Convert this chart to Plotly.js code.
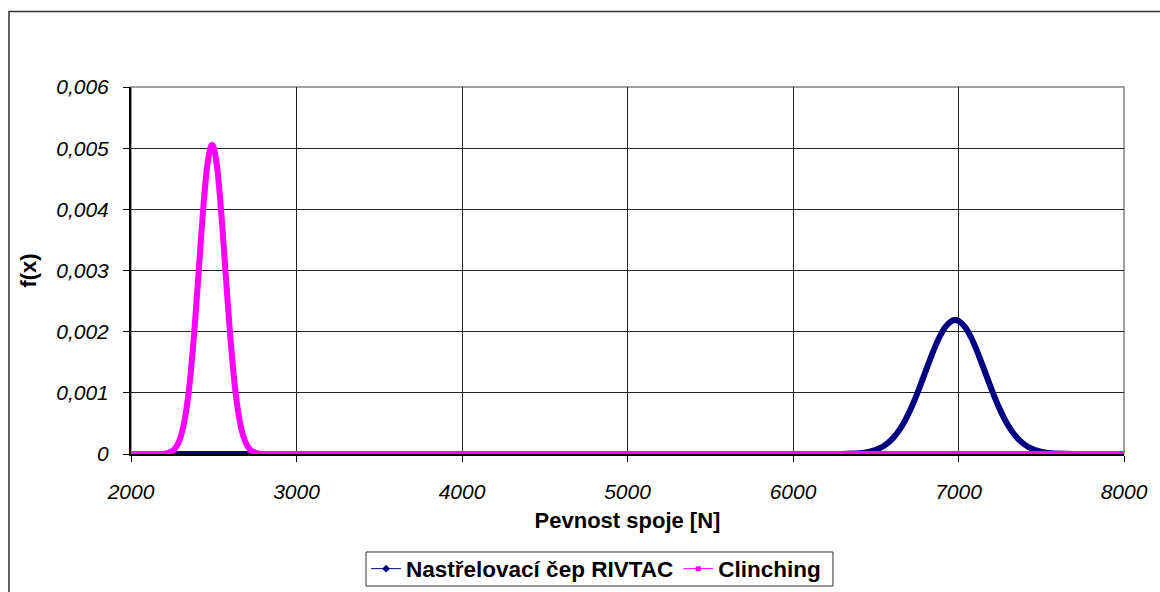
<!DOCTYPE html>
<html>
<head>
<meta charset="utf-8">
<script src="https://cdn.plot.ly/plotly-3.0.1.min.js"></script>
<style>html,body{margin:0;padding:0;background:#fff;}#chart{width:1160px;height:592px;}</style>
</head>
<body>
<div id="chart"></div>
<script>
// Series names
const seriesNames = ["Nastřelovací čep RIVTAC", "Clinching"];

// Nastřelovací čep RIVTAC (blue)
const rivtacX = [2000, 4000, 6000, 6300, 6360, 6400, 6440, 6480, 6520, 6560, 6600, 6640, 6680, 6720, 6760, 6800, 6840, 6880, 6920, 6960, 6980, 7000, 7040, 7080, 7120, 7160, 7200, 7240, 7280, 7320, 7360, 7400, 7440, 7480, 7520, 7560, 7600, 7700, 8000];
const rivtacY = [0, 0, 0, 0, 0.0000066, 0.0000136, 0.0000268, 0.0000503, 0.0000898, 0.000153, 0.000247, 0.000382, 0.000563, 0.000789, 0.001055, 0.001343, 0.001629, 0.001884, 0.002074, 0.002177, 0.00219, 0.002177, 0.002074, 0.001884, 0.001629, 0.001343, 0.001055, 0.000789, 0.000563, 0.000382, 0.000247, 0.000153, 0.0000898, 0.0000503, 0.0000268, 0.0000136, 0.0000066, 0, 0];

// Clinching (magenta)
const clinchX = [2000, 2100, 2150, 2200, 2220, 2240, 2260, 2280, 2300, 2320, 2340, 2360, 2380, 2400, 2420, 2440, 2460, 2480, 2490, 2500, 2520, 2540, 2560, 2580, 2600, 2620, 2640, 2660, 2680, 2700, 2720, 2740, 2760, 2780, 2830, 2900, 4000, 6000, 8000];
const clinchY = [0, 0, 0, 0.000006, 0.0000147, 0.0000338, 0.0000729, 0.000148, 0.00028, 0.000499, 0.000832, 0.0013, 0.00192, 0.00264, 0.00341, 0.00413, 0.0047, 0.00501, 0.00505, 0.00501, 0.0047, 0.00413, 0.00341, 0.00264, 0.00192, 0.0013, 0.000832, 0.000499, 0.00028, 0.000148, 0.0000729, 0.0000338, 0.0000147, 0.000006, 0, 0, 0, 0, 0];

// Tick labels
const xTickVals = [2000, 3000, 4000, 5000, 6000, 7000, 8000];
const xTickText = ["2000", "3000", "4000", "5000", "6000", "7000", "8000"];
const yTickVals = [0, 0.001, 0.002, 0.003, 0.004, 0.005, 0.006];
const yTickText = ["0", "0,001", "0,002", "0,003", "0,004", "0,005", "0,006"];

const xTitle = "Pevnost spoje [N]";
const yTitle = "f(x)";

const blue = "#000080";
const pink = "#FF00FF";
const FONT = "Liberation Sans, Arial, sans-serif";

const traces = [
  {x: rivtacX, y: rivtacY, type: "scatter", mode: "lines", line: {color: blue, width: 6, shape: "spline", smoothing: 0.6}, showlegend: false, hoverinfo: "skip"},
  {x: clinchX, y: clinchY, type: "scatter", mode: "lines", line: {color: pink, width: 6, shape: "spline", smoothing: 0.6}, showlegend: false, hoverinfo: "skip"},
  {x: [null], y: [null], type: "scatter", mode: "lines+markers", name: seriesNames[0], line: {color: blue, width: 1}, marker: {symbol: "diamond", size: 6, color: blue}},
  {x: [null], y: [null], type: "scatter", mode: "lines+markers", name: seriesNames[1], line: {color: pink, width: 1}, marker: {symbol: "square", size: 5, color: pink}}
];

const layout = {
  width: 1160, height: 592,
  margin: {l: 131, r: 36, t: 87, b: 138, autoexpand: false},
  paper_bgcolor: "#ffffff", plot_bgcolor: "#ffffff",
  font: {family: FONT, color: "#000"},
  showlegend: true,
  legend: {
    orientation: "h", x: 0.2367, xanchor: "left", y: -0.3134, yanchor: "middle",
    borderwidth: 0, bgcolor: "rgba(0,0,0,0)",
    font: {family: FONT, size: 22.5, color: "#000", weight: "bold"},
    itemwidth: 30, tracegroupgap: 0
  },
  xaxis: {
    range: [2000, 8000], tickvals: xTickVals, ticktext: xTickText,
    showgrid: true, gridcolor: "#222", gridwidth: 1,
    zeroline: false, showline: true, linecolor: "#000", linewidth: 1.5,
    ticks: "outside", ticklen: 6, tickcolor: "#000", ticklabelstandoff: 12,
    tickfont: {family: FONT, size: 21, style: "italic", color: "#000"},
    title: {text: xTitle, font: {family: FONT, size: 22, weight: "bold", color: "#000"}, standoff: 11},
    automargin: false, fixedrange: true
  },
  yaxis: {
    range: [0, 0.006], tickvals: yTickVals, ticktext: yTickText,
    showgrid: true, gridcolor: "#222", gridwidth: 1,
    zeroline: false, showline: true, linecolor: "#000", linewidth: 2,
    ticks: "outside", ticklen: 6, tickcolor: "#000", ticklabelstandoff: 10,
    tickfont: {family: FONT, size: 21, style: "italic", color: "#000"},
    title: {text: yTitle, font: {family: FONT, size: 22, weight: "bold", color: "#000"}, standoff: 14},
    automargin: false, fixedrange: true
  },
  shapes: [
    {type: "rect", xref: "paper", yref: "paper", x0: 0, x1: 1, y0: 0, y1: 1, line: {color: "#808080", width: 1.5}, layer: "below"},
    {type: "rect", xref: "paper", yref: "paper", x0: -0.1229, x1: 1.06, y0: -0.44, y1: 1.2058, line: {color: "#333", width: 1.5}, layer: "below"},
    {type: "rect", xref: "paper", yref: "paper", x0: 0.2367, x1: 0.7069, y0: -0.3597, y1: -0.267, line: {color: "#333", width: 1}, fillcolor: "#ffffff", layer: "below"}
  ]
};

Plotly.newPlot("chart", traces, layout, {displayModeBar: false, staticPlot: true});
</script>
</body>
</html>
